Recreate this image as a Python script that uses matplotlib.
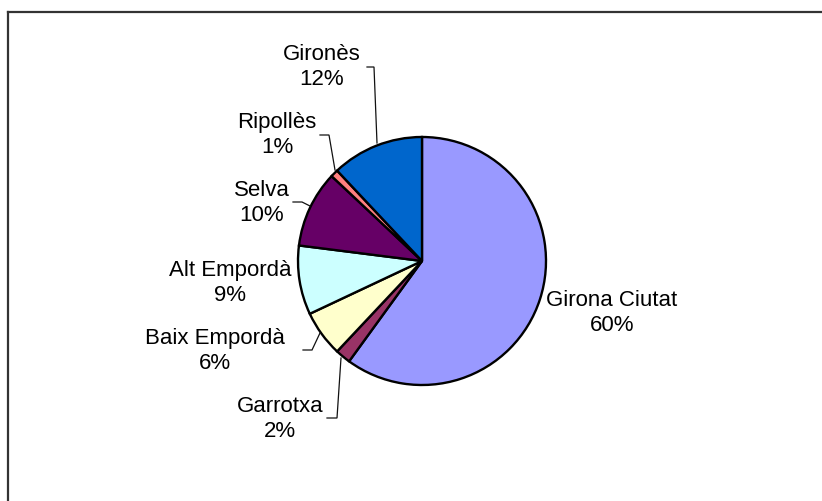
import matplotlib
matplotlib.use("Agg")
import matplotlib.pyplot as plt
from matplotlib.lines import Line2D

categories = ["Girona Ciutat", "Garrotxa", "Baix Empordà", "Alt Empordà", "Selva", "Ripollès", "Gironès"]
values = [60, 2, 6, 9, 10, 1, 12]
colors = ["#9999FF", "#993366", "#FFFFCC", "#CCFFFF", "#660066", "#FF8080", "#0066CC"]

W, H = 822, 501
fig = plt.figure(figsize=(W / 100, H / 100), dpi=100)
ax = fig.add_axes([0, 0, 1, 1])

cx, cy, r = 422, H - 261, 124
ax.pie(values, colors=colors, startangle=90, counterclock=False,
       center=(cx, cy), radius=r,
       wedgeprops=dict(edgecolor="black", linewidth=1.7))
ax.set_xlim(0, W)
ax.set_ylim(0, H)
ax.set_aspect("equal")
ax.set_axis_off()

total = sum(values)
# label positions (pixel coords, top-left origin)
label_pos = {
    "Girona Ciutat": (612, 313),
    "Garrotxa": (280, 419),
    "Baix Empordà": (215, 351),
    "Alt Empordà": (230, 283),
    "Selva": (262, 203),
    "Ripollès": (277, 135),
    "Gironès": (322, 67),
}
for name, v in zip(categories, values):
    x, y = label_pos[name]
    ax.text(x, H - y, f"{name}\n{round(100 * v / total)}%", ha="center", va="center",
            fontsize=16, family="Liberation Sans", color="black", linespacing=1.2)

leaders = [
    [(367, 67), (374, 67), (377, 143)],
    [(320, 135), (329, 135), (335, 170)],
    [(293, 202), (302, 202), (310, 206)],
    [(303, 350), (312, 350), (320, 333)],
    [(327, 418), (337, 418), (341, 358)],
]
for pts in leaders:
    ax.plot([p[0] for p in pts], [H - p[1] for p in pts], color="#111111", lw=0.9,
            solid_joinstyle="miter")

fig.add_artist(Line2D([8 / W, 8 / W], [0, 1 - 12 / H], transform=fig.transFigure,
                      color="#333333", lw=1.6))
fig.add_artist(Line2D([8 / W, 1], [1 - 12 / H, 1 - 12 / H], transform=fig.transFigure,
                      color="#333333", lw=1.6))

fig.savefig("out.png", dpi=100, facecolor="white")
